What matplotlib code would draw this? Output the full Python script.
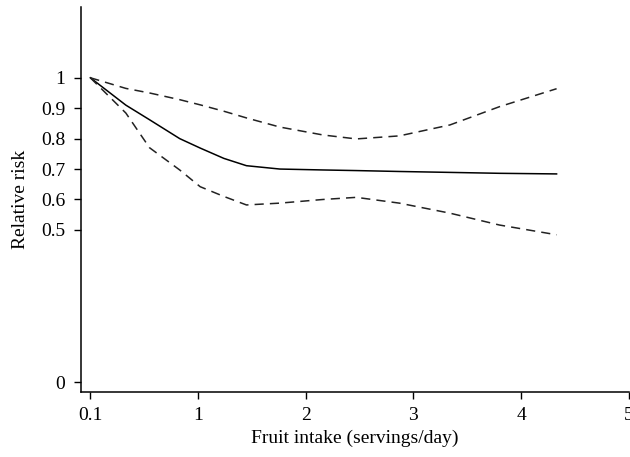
import matplotlib
matplotlib.use("Agg")
import matplotlib.pyplot as plt

# positions on the x axis (the first tick, labelled 0.1, sits at 0)
x_pos = [0.0, 0.33, 0.55, 0.83, 1.02, 1.24, 1.45, 1.76, 2.16, 2.47, 2.87, 3.34, 3.80, 4.33]
rr = [1.0, 0.91, 0.862, 0.80, 0.769, 0.735, 0.711, 0.700, 0.697, 0.695, 0.692, 0.689, 0.686, 0.684]
upper = [1.0, 0.965, 0.95, 0.928, 0.911, 0.89, 0.868, 0.838, 0.812, 0.799, 0.809, 0.845, 0.905, 0.964]
lower = [1.0, 0.884, 0.77, 0.697, 0.642, 0.61, 0.582, 0.588, 0.600, 0.607, 0.588, 0.555, 0.516, 0.484]

xtick_pos = [0, 1, 2, 3, 4, 5]
xtick_labels = ["0.1", "1", "2", "3", "4", "5"]
ytick_vals = [0, 0.5, 0.6, 0.7, 0.8, 0.9, 1]

plt.rcParams['font.family'] = ['Liberation Serif', 'DejaVu Serif']

fig = plt.figure(figsize=(6.3, 4.57), dpi=100)
ax = fig.add_axes([0.128, 0.142, 0.87, 0.843])

ax.plot(x_pos, rr, color="black", lw=1.1)
ax.plot(x_pos, upper, color="#222222", lw=1.1, linestyle=(0, (6, 4)))
ax.plot(x_pos, lower, color="#222222", lw=1.1, linestyle=(0, (6, 4)))

ax.set_xlim(-0.09, 5.0)
ax.set_ylim(-0.033, 1.233)
ax.set_xticks(xtick_pos)
ax.set_xticklabels(xtick_labels)
ax.set_yticks(ytick_vals)
ax.set_yticklabels(["0", "0.5", "0.6", "0.7", "0.8", "0.9", "1"])

for side in ["top", "right"]:
    ax.spines[side].set_visible(False)
for side in ["left", "bottom"]:
    ax.spines[side].set_linewidth(1.1)

ax.tick_params(direction="out", length=5, width=1, labelsize=14, pad=6)
ax.set_xlabel("Fruit intake (servings/day)", fontsize=14, labelpad=4)
ax.set_ylabel("Relative risk", fontsize=14, labelpad=9)

fig.savefig("out.png", dpi=100)
